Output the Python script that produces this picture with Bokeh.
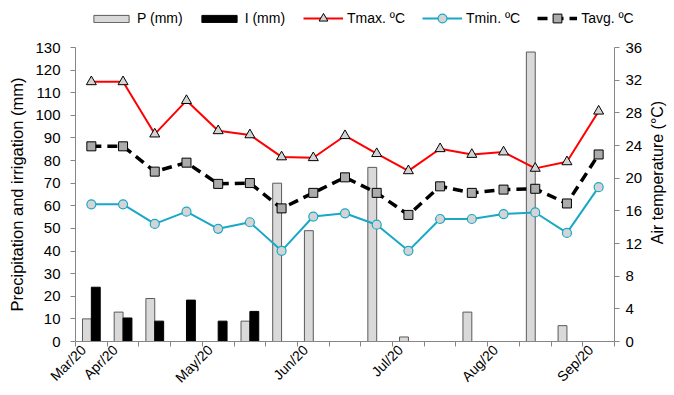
import math
from bokeh.plotting import figure
from bokeh.layouts import column, row
from bokeh.models import (Range1d, LinearAxis, FixedTicker, Legend, LegendItem,
                          ColumnDataSource, Title)
from bokeh.transform import dodge
from bokeh.embed import file_html
from bokeh.resources import INLINE

# ---------------- data ----------------
x_labels = ["Mar/20", "Apr/20", "", "", "May/20", "", "", "Jun/20", "", "",
            "Jul/20", "", "", "Aug/20", "", "", "Sep/20"]
precip = [10, 13, 19, 0, 0, 9, 70, 49, 0, 77, 2, 0, 13, 0, 128, 7, 0]
irrig = [24, 10.4, 9, 18.3, 9, 13.3, 0, 0, 0, 0, 0, 0, 0, 0, 0, 0, 0]
tmax = [31.8, 31.8, 25.4, 29.5, 25.8, 25.3, 22.6, 22.5, 25.2, 23.0, 20.9,
        23.6, 22.9, 23.2, 21.2, 22.0, 28.2]
tmin = [16.8, 16.8, 14.4, 15.9, 13.8, 14.6, 11.1, 15.3, 15.7, 14.3, 11.1,
        15.0, 15.0, 15.6, 15.8, 13.3, 18.9]
tavg = [23.9, 23.9, 20.8, 21.9, 19.3, 19.4, 16.3, 18.2, 20.1, 18.2, 15.5,
        19.0, 18.2, 18.6, 18.7, 16.9, 22.9]
left_ticks = list(range(0, 131, 10))
right_ticks = list(range(0, 37, 4))

n = len(x_labels)
centers = [i + 0.5 for i in range(n)]

FONT = "Liberation Sans"
AX = "#868686"
CY = "#19A8C6"

p_src = ColumnDataSource(dict(x=[centers[i] for i in range(n) if precip[i] > 0],
                              v=[v for v in precip if v > 0]))
i_src = ColumnDataSource(dict(x=[centers[i] for i in range(n) if irrig[i] > 0],
                              v=[v for v in irrig if v > 0]))
src = ColumnDataSource(dict(x=centers, tmax=tmax, tmin=tmin, tavg=tavg))


def add_glyphs(fig, yr):
    r = {}
    r["p"] = fig.vbar(x=dodge("x", -0.14), top="v", width=0.28, source=p_src,
                      fill_color="#D9D9D9", line_color="#5A5A5A", line_width=1)
    r["i"] = fig.vbar(x=dodge("x", 0.14), top="v", width=0.28, source=i_src,
                      fill_color="black", line_color="black", line_width=1)
    r["lmax"] = fig.line("x", "tmax", source=src, y_range_name=yr,
                         line_color="#FF0000", line_width=2)
    r["mmax"] = fig.scatter("x", "tmax", source=src, y_range_name=yr, marker="triangle",
                            size=10, fill_color="#D4D4D4", line_color="black", line_width=1)
    r["lmin"] = fig.line("x", "tmin", source=src, y_range_name=yr,
                         line_color=CY, line_width=2)
    r["mmin"] = fig.scatter("x", "tmin", source=src, y_range_name=yr, marker="circle",
                            size=9, fill_color="#D4D4D4", line_color=CY, line_width=1.2)
    r["lavg"] = fig.line("x", "tavg", source=src, y_range_name=yr, line_color="black",
                         line_width=3.5, line_dash="10 6")
    r["mavg"] = fig.scatter("x", "tavg", source=src, y_range_name=yr, marker="square",
                            size=9, fill_color="#ABABAB", line_color="black", line_width=1)
    return r


# ---------------- main chart ----------------
p = figure(width=646, height=356, output_backend="svg", toolbar_location=None,
           x_range=Range1d(0, n), y_range=Range1d(0, 130),
           min_border_left=75, min_border_right=32, min_border_top=9,
           min_border_bottom=52)
p.frame_align = False
p.extra_y_ranges = {"temp": Range1d(0, 36)}
p.grid.visible = False
p.outline_line_color = None
add_glyphs(p, "temp")

xa = p.xaxis[0]
lab_pos = [i + 0.25 for i in range(n) if x_labels[i]]
xa.ticker = FixedTicker(ticks=lab_pos, minor_ticks=list(range(n + 1)))
xa.major_label_overrides = {i + 0.25: x_labels[i] for i in range(n) if x_labels[i]}
xa.major_label_orientation = math.pi / 4
xa.major_tick_line_color = None
xa.major_tick_out = 0
xa.major_tick_in = 0
xa.minor_tick_line_color = AX
xa.minor_tick_out = 5
xa.minor_tick_in = 0
xa.axis_line_color = AX
xa.major_label_text_font = FONT
xa.major_label_text_font_size = "14px"
xa.major_label_text_color = "black"
xa.major_label_standoff = 1

ya = p.yaxis[0]
ya.ticker = FixedTicker(ticks=left_ticks)
ya.axis_label = "Precipitation and irrigation (mm)"
ya.axis_line_color = AX
ya.major_tick_line_color = AX
ya.minor_tick_line_color = None
ya.major_tick_out = 5
ya.major_tick_in = 0
ya.major_label_text_font = FONT
ya.major_label_text_font_size = "15px"
ya.major_label_text_color = "black"
ya.major_label_standoff = 10
ya.axis_label_text_font = FONT
ya.axis_label_text_font_size = "16.5px"
ya.axis_label_text_font_style = "normal"
ya.axis_label_text_color = "black"
ya.axis_label_standoff = 6

ra = LinearAxis(y_range_name="temp", ticker=FixedTicker(ticks=right_ticks))
ra.axis_line_color = AX
ra.major_tick_line_color = AX
ra.minor_tick_line_color = None
ra.major_tick_out = 5
ra.major_tick_in = 0
ra.major_label_text_font = FONT
ra.major_label_text_font_size = "15px"
ra.major_label_text_color = "black"
ra.major_label_standoff = 6
p.add_layout(ra, "right")

# ---------------- right axis title strip ----------------
side = figure(width=28, height=356, output_backend="svg", toolbar_location=None,
              x_axis_location=None, y_axis_location=None,
              min_border_left=0, min_border_right=0, min_border_top=0,
              min_border_bottom=88)
side.frame_align = False
side.grid.visible = False
side.outline_line_color = None
rt = Title(text="Air temperature (\u00b0C)", align="center",
           text_font=FONT, text_font_size="16px", text_font_style="normal",
           text_color="black")
if "standoff" in Title.properties():
    rt.standoff = 0
side.add_layout(rt, "left")

# ---------------- legend strip ----------------
lg = figure(width=674, height=38, output_backend="svg", toolbar_location=None,
            x_range=Range1d(-1000, -999), y_range=Range1d(-1000, -999),
            x_axis_location=None, y_axis_location=None,
            min_border_left=0, min_border_right=0, min_border_top=0,
            min_border_bottom=0)
lg.frame_align = False
lg.extra_y_ranges = {"temp": Range1d(-1000, -999)}
lg.grid.visible = False
lg.outline_line_color = None
lr = add_glyphs(lg, "temp")

common = dict(orientation="horizontal", padding=0, margin=0,
              background_fill_alpha=0, border_line_color=None,
              label_text_font=FONT, label_text_font_size="14px",
              label_text_color="black", label_standoff=4)
leg1 = Legend(items=[LegendItem(label="P (mm)", renderers=[lr["p"]]),
                     LegendItem(label="I (mm)", renderers=[lr["i"]])],
              location=(89, 10), glyph_width=44, glyph_height=9,
              label_height=20, spacing=14, **common)
leg2 = Legend(items=[LegendItem(label="Tmax. \u00baC", renderers=[lr["lmax"], lr["mmax"]]),
                     LegendItem(label="Tmin. \u00baC", renderers=[lr["lmin"], lr["mmin"]]),
                     LegendItem(label="Tavg. \u00baC", renderers=[lr["lavg"], lr["mavg"]])],
              location=(303, 9), glyph_width=40, glyph_height=22,
              label_height=22, spacing=17, **common)
lg.add_layout(leg1)
lg.add_layout(leg2)

layout = column(lg, row(p, side, spacing=0), spacing=0)
open("out.html", "w").write(file_html(layout, INLINE))
